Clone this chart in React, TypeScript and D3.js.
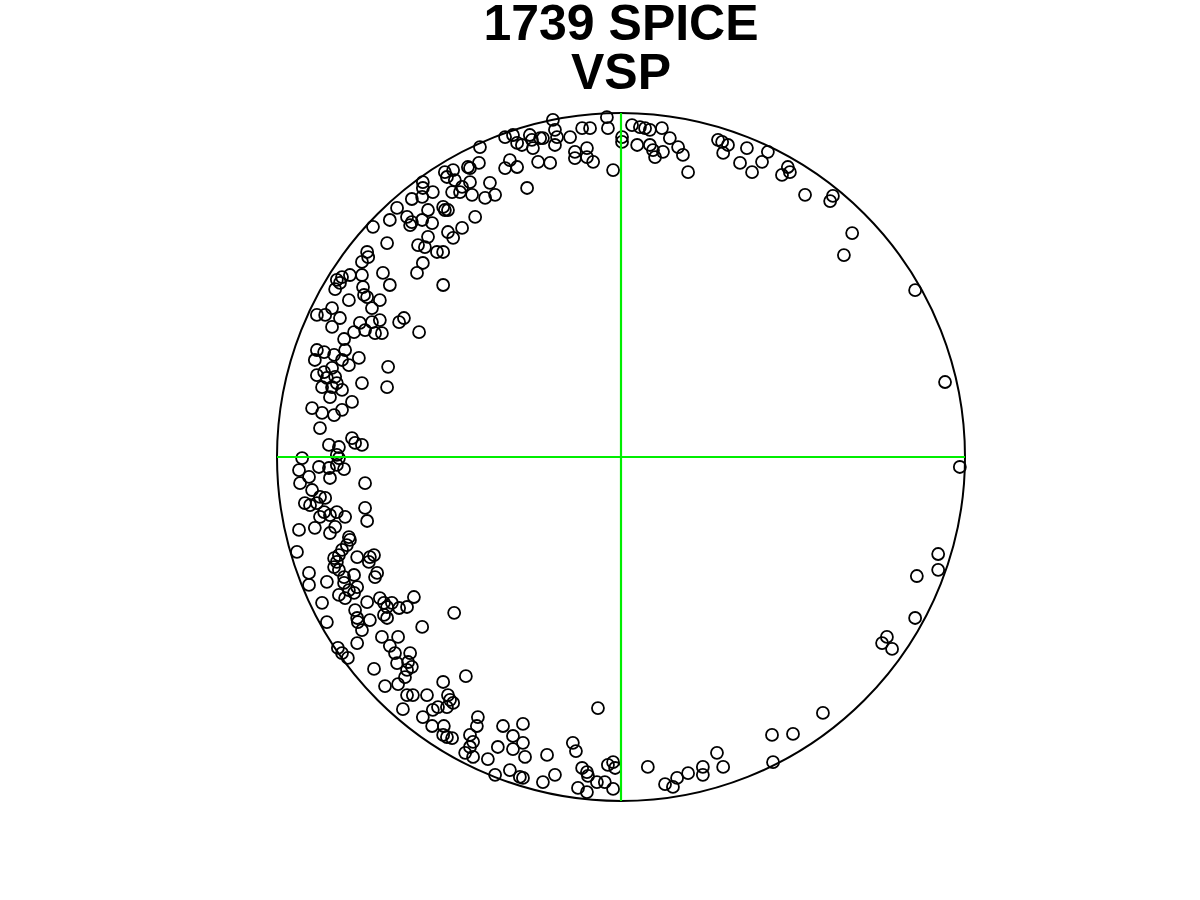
import React from 'react';
import * as d3 from 'd3';

// projected positions on the net, in percent of the primitive circle radius
const projX = [
  -41.0, -43.9, -44.5, -41.3, -51.2, -48.8, -50.6, -48.3, -46.2, -43.9, -46.8, -49.1, -43.3, -57.6, -57.6, -54.7, -57.8, -60.8,
  -51.7, -51.2, -50.3, -56.1, -42.4, -65.1, -67.2, -62.2, -60.8, -57.8, -61.3, -54.9, -72.1, -46.2, -50.3, -48.8, -56.1, -68.0,
  -59.0, -57.0, -53.5, -51.7, -73.8, -73.5, -75.3, -57.6, -69.2, -59.3, -75.3, -78.8, -81.1, -82.6, -81.7, -67.2, -51.7, -75.0,
  -33.7, -31.4, -30.2, -28.8, -26.5, -25.9, -25.6, -23.5, -22.7, -19.8, -19.2, -18.6, -19.2, -14.8, -11.3, -9.0, -13.4, -13.4,
  -9.9, -9.9, -8.1, -4.1, -3.8, -2.3, 0.3, 0.3, 3.2, 5.5, 7.0, 8.4, 11.9, 4.7, 8.4, 9.3, 9.9, 12.2, 14.2, 16.6, 18.0, 19.5,
  -32.3, -33.7, -30.2, -24.1, -20.6, -27.3, -38.1, -36.6, -39.5,
  28.2, 29.4, 31.1, 29.7, 36.6, 34.6, 38.1, 41.0, 42.7, 48.5, 49.1, 46.8, 53.5, 61.6, 60.8, 67.2, 64.8, 85.5,
  94.2, 98.5, 92.2, 92.2, 86.0, 85.5, 77.3, 75.9, 78.8,
  -6.7, -34.3, -28.5, -31.4, -28.5, -31.4, -27.9, -21.5, -14.0, -13.1, -32.3, -29.4, -28.5, -22.7, -19.2, -11.3, -9.9, -9.6,
  -12.5, -9.9, -7.0, -4.7, -3.8, -2.3, -1.7, -2.3, 7.8, 12.8, 15.1, 16.3, 19.5, 23.8, 23.8, 27.9, 29.7, 43.9, 50.0, 44.2, 58.7,
  -85.5, -76.5, -75.3, -76.7, -69.5, -64.8, -67.2, -65.7, -61.3, -82.3, -81.1, -79.4, -71.8, -65.1, -61.9, -60.8, -62.2, -62.8,
  -68.6, -64.8, -51.7, -45.1, -62.2, -60.5, -56.4, -50.3, -49.7, -48.8, -50.6, -53.2, -63.4, -54.7, -57.6, -54.9, -51.5, -51.7,
  -50.6, -49.1, -41.6, -41.9, -43.9, -43.0, -43.9, -45.3, -43.0, -38.7, -35.8, -36.6,
  -92.7, -82.6, -82.0, -93.6, -87.8, -84.9, -84.6, -82.6, -80.5, -90.7, -93.3, -74.4, -89.8, -87.5, -86.0, -91.9, -90.4, -88.4,
  -86.3, -87.5, -84.6, -82.6, -80.2, -74.4, -73.8, -93.6, -89.0, -84.6, -83.1, -79.1, -78.8, -94.2, -79.7, -81.1, -82.0, -83.4,
  -82.6, -76.7, -73.0, -73.3, -71.8, -83.4, -82.0, -90.7, -70.9, -71.5, -80.5, -77.6, -85.5, -90.7, -80.5, -76.7, -79.1, -77.6,
  -82.0, -80.2, -73.8, -70.1, -68.9, -68.0, -66.6, -64.5, -62.2, -60.2, -86.9, -77.3, -76.7, -68.9, -68.0, -73.0, -48.5, -57.8,
  -83.1, -73.8, -74.7, -79.1, -70.1, -72.4, -84.0, -88.4, -86.0, -81.7, -84.0, -75.9, -72.4, -70.1, -64.5, -63.1, -74.4, -71.5,
  -69.5, -77.6, -58.7, -80.5, -88.4, -86.3, -83.4, -80.2, -89.0, -81.1, -79.1, -76.2, -88.4, -86.3, -84.0, -85.5, -83.1, -86.9,
  -84.0, -82.6, -81.1, -84.6, -75.3, -67.7, -68.0, -89.8, -86.9, -83.4, -81.1, -78.2, -87.5, -84.9, -82.0, -78.2, -77.3, -75.3,
];

const projY = [
  90.1, 84.0, 84.3, 85.5, 82.8, 83.4, 81.4, 80.5, 78.5, 79.9, 77.0, 77.0, 76.2, 79.9, 78.2, 77.0, 75.6, 75.0,
  72.7, 71.8, 71.8, 71.8, 69.8, 72.4, 68.9, 69.8, 68.3, 68.9, 67.4, 68.0, 66.9, 66.6, 65.4, 63.7, 64.0, 62.2,
  61.6, 61.0, 59.6, 59.6, 59.6, 58.1, 56.7, 56.4, 53.5, 53.5, 52.9, 52.9, 52.3, 51.5, 50.6, 50.0, 50.0, 49.4,
  93.0, 93.6, 91.3, 90.7, 93.6, 92.2, 89.8, 92.7, 92.7, 98.0, 95.1, 93.0, 90.7, 93.0, 95.6, 95.6, 88.7, 86.9,
  89.8, 87.2, 85.8, 98.8, 95.6, 83.4, 93.0, 91.6, 96.5, 95.9, 95.6, 95.1, 95.6, 90.7, 90.7, 89.2, 87.2, 88.7, 92.7, 90.1, 87.8, 82.8,
  86.3, 84.0, 84.3, 85.8, 85.5, 78.2, 79.7, 76.2, 75.3,
  92.2, 91.6, 90.7, 88.4, 89.8, 85.5, 82.8, 85.8, 88.7, 84.3, 82.8, 82.0, 76.2, 75.9, 74.4, 65.1, 58.7, 48.5,
  21.8, -2.9, -28.2, -32.8, -34.6, -46.8, -52.3, -54.1, -55.8,
  -73.0, -78.2, -77.6, -81.1, -83.1, -84.9, -87.2, -86.6, -83.1, -85.5, -91.0, -93.0, -93.3, -94.5, -92.4, -90.4, -91.6, -92.7,
  -96.2, -97.4, -94.5, -94.5, -89.5, -88.7, -90.4, -96.5, -90.1, -95.1, -95.9, -93.3, -91.9, -90.1, -92.4, -86.0, -90.1, -80.8, -80.5, -88.7, -74.4,
  -48.0, -48.0, -50.3, -54.1, -52.3, -52.3, -54.9, -57.0, -57.0, -55.5, -57.0, -58.4, -61.6, -59.9, -59.6, -61.0, -61.9, -64.0,
  -66.6, -66.0, -65.4, -63.7, -69.2, -69.2, -69.2, -69.2, -70.6, -71.5, -72.7, -72.7, -73.3, -73.5, -75.6, -78.2, -78.2, -80.8,
  -81.4, -81.7, -75.6, -78.2, -80.8, -82.8, -84.3, -86.0, -87.2, -87.8, -84.3, -92.4,
  -0.3, 0.6, -0.3, -3.8, -2.9, -3.2, -6.1, -2.3, -3.5, -5.8, -7.6, -7.6, -9.6, -11.6, -11.9, -13.4, -14.0, -13.4,
  -16.0, -17.4, -16.9, -16.0, -17.4, -14.8, -18.6, -21.2, -20.6, -22.1, -20.3, -23.3, -24.1, -27.6, -25.6, -27.0, -28.5, -29.4,
  -30.5, -29.1, -29.1, -30.5, -28.5, -32.0, -32.8, -33.7, -33.7, -34.9, -34.9, -34.3, -36.3, -37.2, -36.6, -37.8, -38.7, -39.5,
  -40.1, -41.0, -42.2, -41.0, -42.4, -43.6, -42.4, -43.9, -43.6, -40.7, -42.4, -44.5, -46.8, -45.9, -46.8, -47.4, -45.3, -49.4,
  48.8, 46.5, 47.1, 45.6, 45.6, 43.3, 43.3, 41.3, 41.3, 40.4, 37.8, 39.0, 39.2, 39.8, 39.2, 40.4, 36.9, 36.0,
  36.0, 36.3, 36.3, 34.3, 31.1, 30.5, 29.7, 31.1, 28.2, 28.2, 26.7, 28.8, 23.8, 24.7, 25.9, 23.0, 23.3, 20.3,
  20.3, 21.5, 19.5, 17.4, 21.5, 26.2, 20.3, 14.2, 12.8, 12.2, 13.7, 16.0, 8.4, 3.5, 2.9, 5.5, 4.1, 3.5,
];

const titleLines = ['1739 SPICE', 'VSP'];

const W = 1200;
const H = 900;
const cx = 621;
const cy = 457;
const R = 344;

export default function App() {
  const x = d3.scaleLinear().domain([-100, 100]).range([cx - R, cx + R]);
  const y = d3.scaleLinear().domain([-100, 100]).range([cy + R, cy - R]);
  const n = Math.min(projX.length, projY.length);
  const pts = d3.range(n).map((i) => [projX[i], projY[i]]);

  return (
    <svg width={W} height={H} style={{ position: 'absolute', left: 0, top: 0, background: '#fff' }}>
      <g fontFamily="'Liberation Sans', Arial, sans-serif" fontWeight="bold" fontSize={50} textAnchor="middle">
        {titleLines.map((t, i) => (
          <text key={t} x={cx} y={40 + i * 49}>{t}</text>
        ))}
      </g>
      <circle cx={x(0)} cy={y(0)} r={x(100) - x(0)} fill="none" stroke="#000" strokeWidth={2} />
      <g fill="none" stroke="#000" strokeWidth={1.8}>
        {pts.map((p, i) => (
          <circle key={i} cx={x(p[0])} cy={y(p[1])} r={6} />
        ))}
      </g>
      <g stroke="#00ee00" strokeWidth={2.2}>
        <line x1={x(-100)} x2={x(100)} y1={y(0)} y2={y(0)} />
        <line x1={x(0)} x2={x(0)} y1={y(100)} y2={y(-100)} />
      </g>
    </svg>
  );
}
